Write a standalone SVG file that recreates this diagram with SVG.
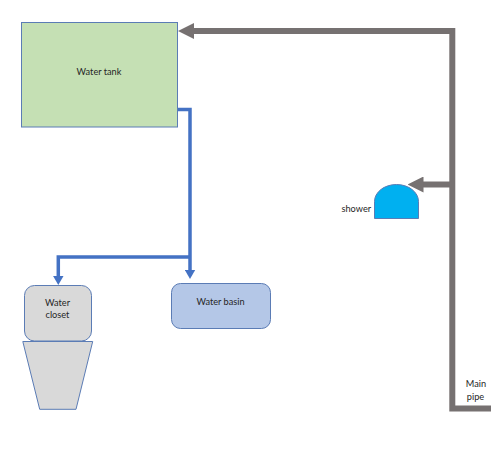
<svg xmlns="http://www.w3.org/2000/svg" width="500" height="450" viewBox="0 0 500 450">
<style>
text{font-family:"Lato","Liberation Sans",Arial,sans-serif;font-size:9.2px;fill:#262626;text-anchor:middle}
.node{stroke:#5B7CB5;stroke-width:1}
.gray{fill:none;stroke:#767171;stroke-width:6}
.blue{fill:none;stroke:#4472C4;stroke-width:3.5}
</style>
<defs>
<marker id="ag" markerUnits="userSpaceOnUse" markerWidth="16" markerHeight="16" refX="1" refY="8" orient="auto"><path d="M0 0L16 8L0 16Z" fill="#767171"/></marker>
<marker id="ab" markerUnits="userSpaceOnUse" markerWidth="9.5" markerHeight="11" refX="1" refY="5.5" orient="auto"><path d="M0 0L9.5 5.5L0 11Z" fill="#4472C4"/></marker>
</defs>
<rect width="500" height="450" fill="#fff"/>
<g id="connectors">
<path class="gray" d="M491 408.5H452.3V31H193" marker-end="url(#ag)"/>
<path class="gray" d="M452 184.5H422.5" marker-end="url(#ag)"/>
<path class="blue" d="M177.5 109.5H190V270.5" marker-end="url(#ab)"/>
<path class="blue" d="M190 257H58.3V276.5" marker-end="url(#ab)"/>
</g>
<g id="water-tank"><rect class="node" x="21.5" y="22.5" width="156" height="104.5" fill="#C5E0B4"/><text x="99" y="74.5">Water tank</text></g>
<g id="water-closet"><rect class="node" x="24.5" y="285.5" width="67" height="55.5" rx="10" fill="#D9D9D9"/><text x="57.5" y="305.5">Water</text><text x="57.5" y="318">closet</text></g>
<g id="closet-bowl"><path class="node" d="M22.8 341.5H92.7L76 409.3H39.7Z" fill="#D9D9D9"/></g>
<g id="water-basin"><rect class="node" x="171.5" y="283.5" width="99" height="45" rx="9" fill="#B4C7E7"/><text x="220.5" y="304.5">Water basin</text></g>
<g id="shower"><path class="node" d="M374.5 218.5V201.5A22 17 0 0 1 418.5 201.5V218.5Z" fill="#00B0F0"/><text x="356.3" y="212">shower</text></g>
<g id="main-pipe"><text x="476" y="387">Main</text><text x="475.5" y="399.5">pipe</text></g>
</svg>
